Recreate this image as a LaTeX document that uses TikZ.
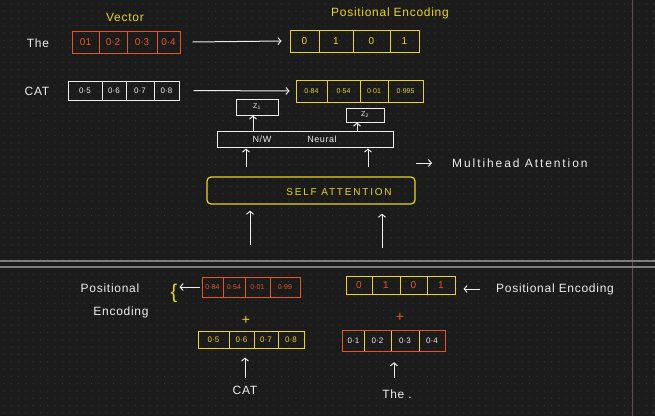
\documentclass[tikz,border=0pt]{standalone}
\usepackage{fontspec}
\setmainfont{Liberation Sans}
\newfontfamily\spacedfont[LetterSpace=18]{Liberation Sans}
\newfontfamily\handfont[LetterSpace=6]{Liberation Sans}
\newfontfamily\widefont[LetterSpace=16]{Liberation Sans}
\usetikzlibrary{arrows.meta,calc}
\definecolor{bg}{HTML}{1B1B1B}
\definecolor{dotc}{HTML}{353535}
\definecolor{orng}{HTML}{E4561C}
\definecolor{yel}{HTML}{EAD41C}
\definecolor{wht}{HTML}{EDEDED}
\definecolor{sepl}{HTML}{7C7C7C}
\definecolor{vline}{HTML}{6A4753}
\tikzset{
  cell/.style={draw, line width=1pt, inner sep=0pt, anchor=center},
  ocell/.style={cell, draw=orng, text=orng},
  ycell/.style={cell, draw=yel, text=yel},
  wcell/.style={cell, draw=wht, text=wht},
  arr/.style={draw=wht, line width=1pt, -{Straight Barb[length=3pt,width=7pt]}},
  lbl/.style={text=wht, inner sep=1pt, font=\handfont\fontsize{12}{13}\selectfont},
  ylbl/.style={text=yel, inner sep=1pt, font=\handfont\fontsize{12}{13}\selectfont},
  big/.style={font=\fontsize{10}{11}\selectfont},
  mid/.style={font=\fontsize{8}{9}\selectfont},
  small/.style={font=\fontsize{7}{8}\selectfont},
}
\begin{document}
\begin{tikzpicture}[x=1pt,y=-1pt]
\useasboundingbox (0,0) rectangle (655,416);
\fill[bg] (0,0) rectangle (655,416);
% dot grid
\foreach \x in {4,11.3,...,655} {
  \foreach \y in {4,11.3,...,416} {
    \fill[dotc] (\x,\y) circle (0.6);
  }
}
% separators
\draw[vline, line width=1pt] (632,0) -- (632,416);
\draw[sepl, line width=1.2pt] (0,261) -- (655,261);
\draw[sepl, line width=1.2pt] (0,267) -- (655,267);

% ---------- top part ----------
\node[ylbl] (vec) at (125,17) {Vector};
\node[ylbl] (pelab) at (390,13) {Positional Encoding};
\node[lbl] (the) at (38,43) {The};
\node[lbl] (cat) at (37,91) {CAT};

% The vector (orange)
\node[ocell, big, minimum width=27pt, minimum height=22pt] (a1) at (85.5,42) {01};
\node[ocell, big, minimum width=28pt, minimum height=22pt] (a2) at (113,42) {0·2};
\node[ocell, big, minimum width=30pt, minimum height=22pt] (a3) at (142,42) {0·3};
\node[ocell, big, minimum width=23pt, minimum height=22pt] (a4) at (168.5,42) {0·4};

% positional encoding (yellow)
\node[ycell, big, minimum width=29pt, minimum height=22pt] (p1) at (304.5,41) {0};
\node[ycell, big, minimum width=34pt, minimum height=22pt] (p2) at (336,41) {1};
\node[ycell, big, minimum width=37pt, minimum height=22pt] (p3) at (371.5,41) {0};
\node[ycell, big, minimum width=29pt, minimum height=22pt] (p4) at (404.5,41) {1};

\draw[arr] ([xshift=12pt]a4.east) -- ([xshift=-8pt]p1.west);

% CAT vector (white)
\node[wcell, mid, minimum width=34pt, minimum height=19pt] (c1) at (85,90.5) {0·5};
\node[wcell, mid, minimum width=24pt, minimum height=19pt] (c2) at (114,90.5) {0·6};
\node[wcell, mid, minimum width=28pt, minimum height=19pt] (c3) at (140,90.5) {0·7};
\node[wcell, mid, minimum width=25pt, minimum height=19pt] (c4) at (166.5,90.5) {0·8};

% CAT with positional encoding (yellow)
\node[ycell, small, minimum width=31pt, minimum height=22pt] (q1) at (311.5,91) {0·84};
\node[ycell, small, minimum width=33pt, minimum height=22pt] (q2) at (343.5,91) {0·54};
\node[ycell, small, minimum width=28pt, minimum height=22pt] (q3) at (374,91) {0·01};
\node[ycell, small, minimum width=35pt, minimum height=22pt] (q4) at (405.5,91) {0·995};

\draw[arr] ([xshift=14pt]c4.east) -- ([xshift=-6pt]q1.west);

% Z1, Z2
\node[wcell, small, minimum width=42pt, minimum height=16pt] (z1) at (257,107) {Z\textsubscript{1}};
\node[wcell, small, minimum width=38pt, minimum height=14pt] (z2) at (365,115) {Z\textsubscript{2}};

% neural network box
\node[draw=wht, line width=1pt, minimum width=176pt, minimum height=16pt, inner sep=0pt] (nn) at (305,139) {};
\node[text=wht, inner sep=1pt, font=\handfont\fontsize{9}{10}\selectfont] (nw) at (262,139) {N/W};
\node[text=wht, inner sep=1pt, font=\handfont\fontsize{9}{10}\selectfont] (neur) at (322,139) {Neural};

\draw[arr] ([xshift=-4pt]z1.south |- nn.north) -- ([xshift=-4pt]z1.south);
\draw[arr] ([xshift=-8pt]z2.south |- nn.north) -- ([xshift=-8pt]z2.south);

% self attention
\node[draw=yel, line width=1.2pt, rounded corners=4pt, minimum width=208pt, minimum height=27pt, inner sep=0pt] (sa) at (311,190.5) {};
\node[text=yel, inner sep=1pt, font=\spacedfont\fontsize{10}{11}\selectfont] (satxt) at (339,192) {SELF ATTENTION};

\draw[arr] ([xshift=-65pt,yshift=9pt]sa.north) -- ([xshift=-59pt,yshift=-1pt]nn.south);
\draw[arr] ([xshift=57pt,yshift=9pt]sa.north) -- ([xshift=63pt,yshift=-1pt]nn.south);

\node[text=wht, inner sep=1pt, font=\widefont\fontsize{12}{13}\selectfont, anchor=west] (mh) at (451,163) {Multihead Attention};
\coordinate (mh0) at (416,163);
\draw[arr] (mh0) -- ([xshift=-19pt]mh.west);

\coordinate (in1) at (250,245);
\coordinate (in2) at (382,248);
\draw[arr] (in1) -- ([xshift=-61pt,yshift=-6pt]sa.south);
\draw[arr] (in2) -- ([xshift=71pt,yshift=-9pt]sa.south);

% ---------- bottom left ----------
\node[lbl] (pos2) at (110,288) {Positional};
\node[lbl] (enc2) at (121,312) {Encoding};
\node[text=yel, inner sep=0pt, font=\fontsize{20}{20}\selectfont] (brace) at (174,293) {\{};

\node[ocell, small, minimum width=21pt, minimum height=20pt] (b1) at (212.5,287) {0·84};
\node[ocell, small, minimum width=22pt, minimum height=20pt] (b2) at (234,287) {0·54};
\node[ocell, small, minimum width=25pt, minimum height=20pt] (b3) at (257.5,287) {0·01};
\node[ocell, small, minimum width=30pt, minimum height=20pt] (b4) at (285,287) {0·99};

\draw[arr] ([xshift=-2pt]b1.west) -- ([xshift=2pt]brace.east |- b1.west);

\node[text=yel, inner sep=0pt, font=\fontsize{14}{14}\selectfont] (plus1) at (246,320) {+};

\node[ycell, mid, minimum width=31pt, minimum height=17pt] (d1) at (213.5,339.5) {0·5};
\node[ycell, mid, minimum width=25pt, minimum height=17pt] (d2) at (241.5,339.5) {0·6};
\node[ycell, mid, minimum width=24pt, minimum height=17pt] (d3) at (266,339.5) {0·7};
\node[ycell, mid, minimum width=26pt, minimum height=17pt] (d4) at (291,339.5) {0·8};

\node[lbl] (cat2) at (245,390) {CAT};
\draw[arr] ($(cat2.north)+(0,-7)$) -- ($(cat2.north |- d2.south)+(0,9)$);

% ---------- bottom right ----------
\node[ycell, big, text=orng, minimum width=26pt, minimum height=18pt] (e1) at (359,285) {0};
\node[ycell, big, text=orng, minimum width=28pt, minimum height=18pt] (e2) at (386,285) {1};
\node[ycell, big, text=orng, minimum width=27pt, minimum height=18pt] (e3) at (413.5,285) {0};
\node[ycell, big, text=orng, minimum width=28pt, minimum height=18pt] (e4) at (441,285) {1};

\node[lbl, anchor=west] (pos3) at (495,289) {Positional Encoding};
\draw[arr] ([xshift=-15pt]pos3.west) -- ([xshift=8pt]pos3.west -| e4.east);

\node[text=orng, inner sep=0pt, font=\fontsize{14}{14}\selectfont] (plus2) at (400,317) {+};

\node[inner sep=0pt, mid, text=wht, minimum width=21pt, minimum height=20pt] (f1) at (353.5,341) {0·1};
\node[inner sep=0pt, mid, text=wht, minimum width=27pt, minimum height=20pt] (f2) at (377.5,341) {0·2};
\node[inner sep=0pt, mid, text=wht, minimum width=28pt, minimum height=20pt] (f3) at (405,341) {0·3};
\node[inner sep=0pt, mid, text=wht, minimum width=26pt, minimum height=20pt] (f4) at (432,341) {0·4};
\draw[draw=orng, line width=1.2pt] (f1.north west) rectangle (f4.south east);
\draw[draw=yel, line width=1pt] (f1.north east) -- (f1.south east);
\draw[draw=yel, line width=1pt] (f2.north east) -- (f2.south east);
\draw[draw=yel, line width=1pt] (f3.north east) -- (f3.south east);

\node[lbl] (the2) at (397,394) {The .};
\draw[arr] ($(the2.north)+(-3,-10)$) -- ($(f3.south)+(-11,11)$);
\end{tikzpicture}
\end{document}
